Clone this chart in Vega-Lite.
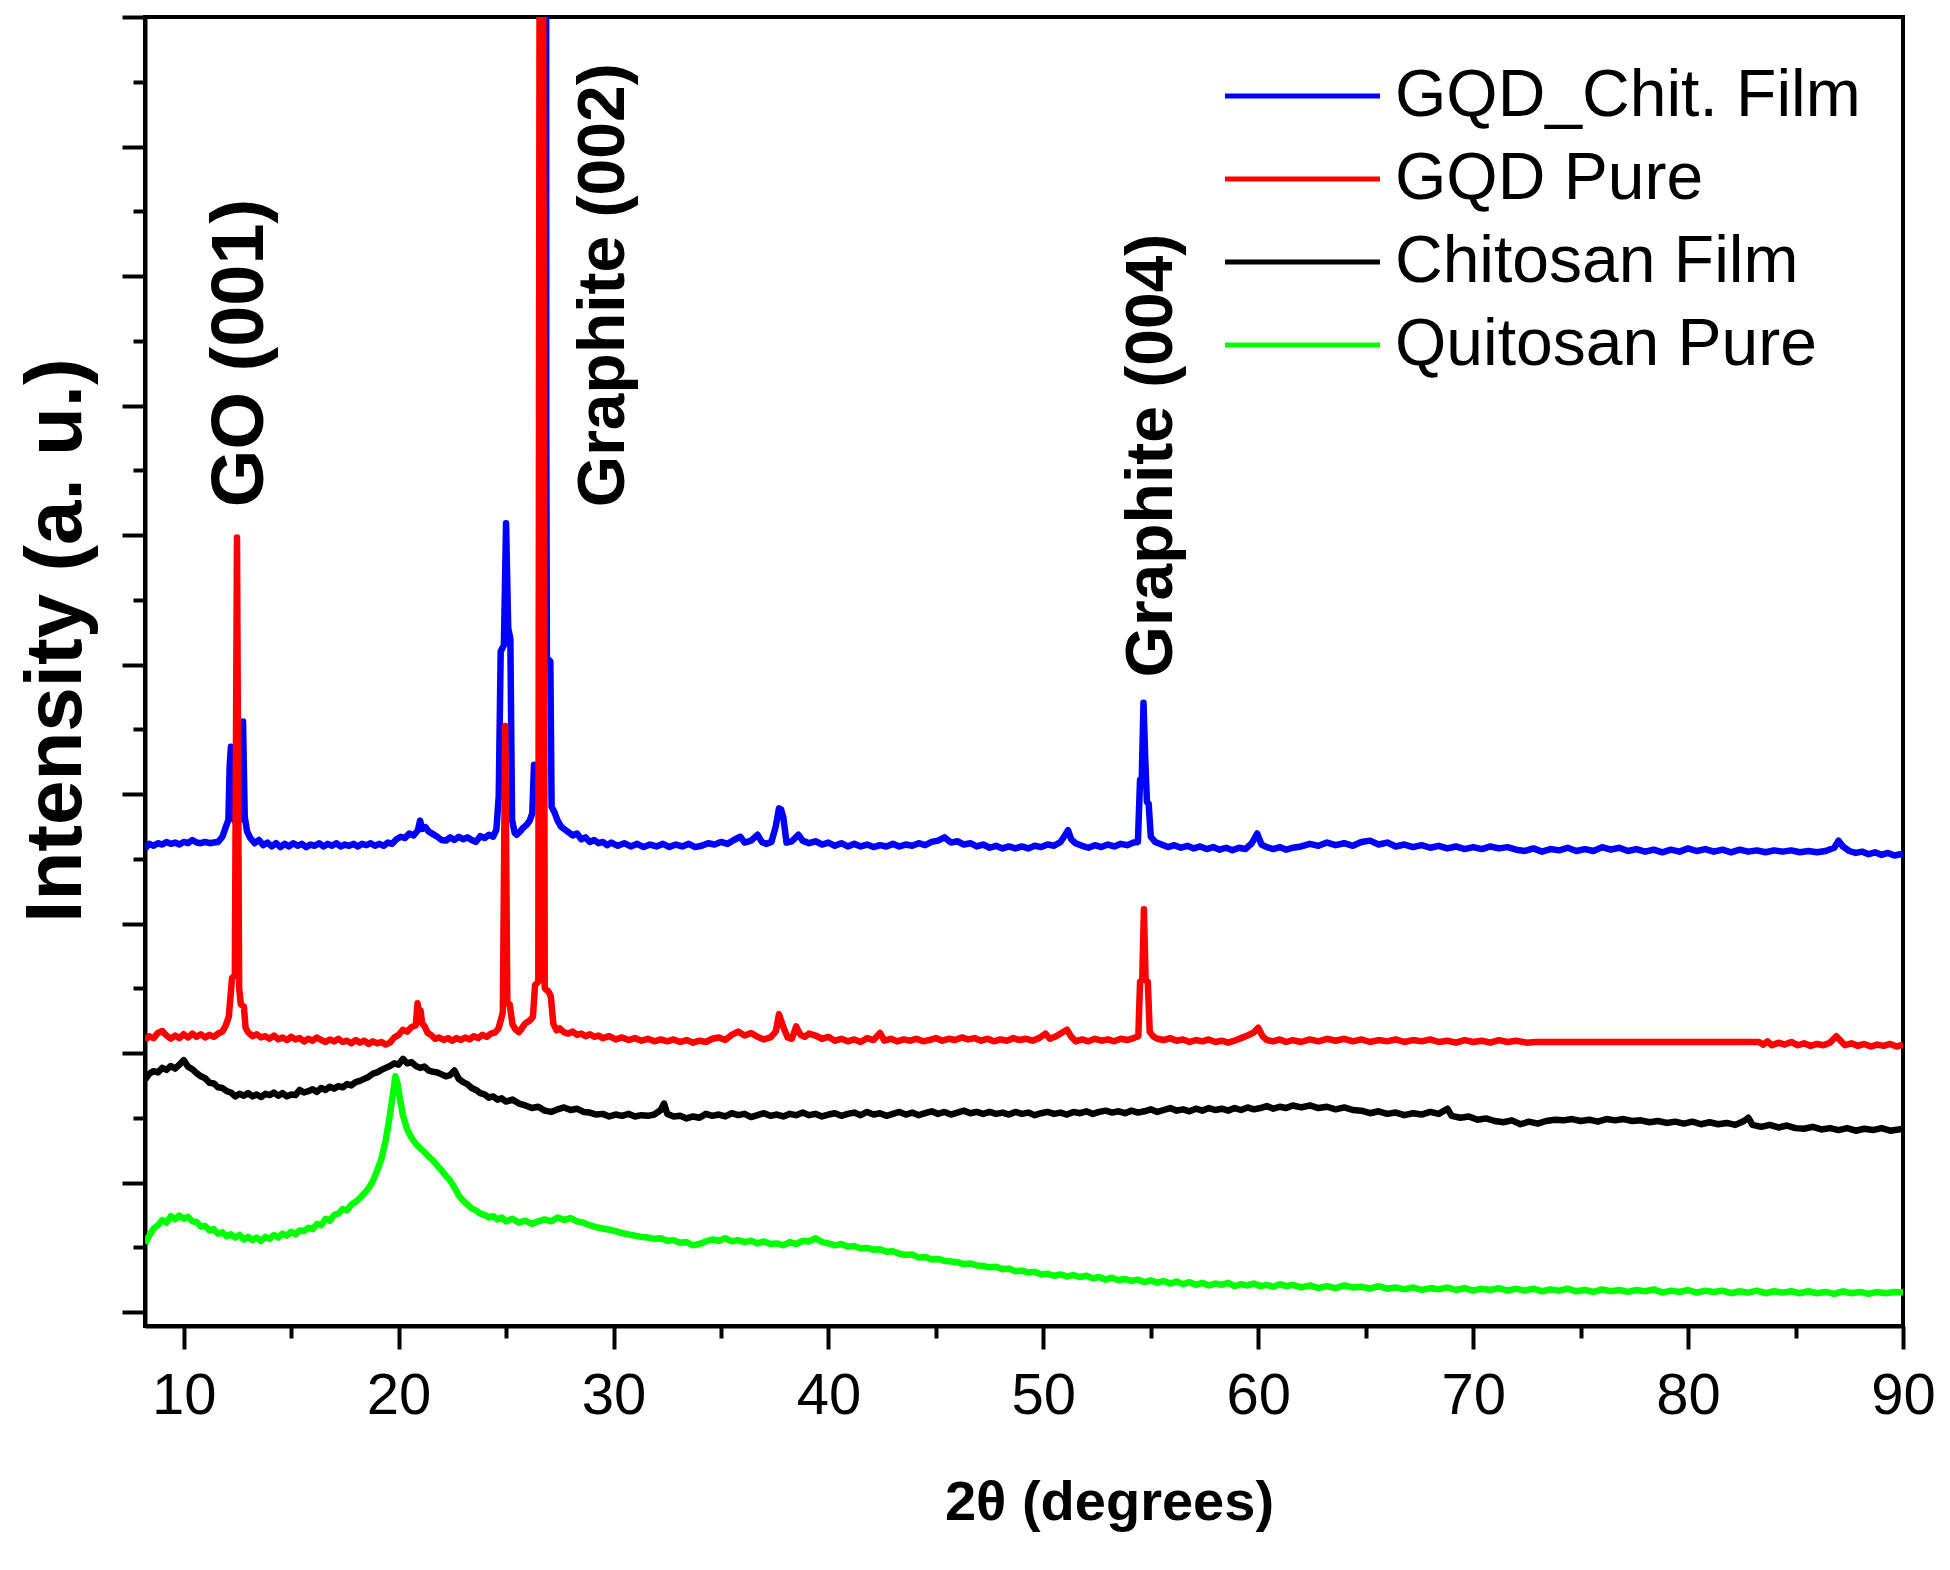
{
"$schema": "https://vega.github.io/schema/vega-lite/v6.json",
"width": 1758, "height": 1309,
"autosize": {"type": "none"},
"padding": {"left": 145, "top": 17, "right": 47, "bottom": 244},
"background": "white",
"config": {"view": {"stroke": "black", "strokeWidth": 4}, "font": "Liberation Sans"},
"datasets": {
"blue": [{"x":8.2,"y":71.6},{"x":8.4,"y":72.3},{"x":8.6,"y":72.0},{"x":8.8,"y":72.4},{"x":9.0,"y":72.2},{"x":9.2,"y":72.6},{"x":9.4,"y":72.3},{"x":9.6,"y":72.5},{"x":9.8,"y":72.2},{"x":10.0,"y":72.6},{"x":10.2,"y":72.4},{"x":10.4,"y":72.9},{"x":10.6,"y":72.5},{"x":10.8,"y":72.4},{"x":11.0,"y":72.6},{"x":11.2,"y":72.4},{"x":11.4,"y":72.5},{"x":11.6,"y":72.6},{"x":11.8,"y":73.4},{"x":11.95,"y":74.8},{"x":12.08,"y":76.0},{"x":12.14,"y":84.3},{"x":12.2,"y":87.3},{"x":12.26,"y":77.0},{"x":12.35,"y":76.0},{"x":12.45,"y":75.5},{"x":12.6,"y":76.0},{"x":12.68,"y":86.0},{"x":12.76,"y":91.2},{"x":12.84,"y":76.5},{"x":12.95,"y":74.2},{"x":13.1,"y":73.2},{"x":13.3,"y":72.4},{"x":13.5,"y":72.9},{"x":13.7,"y":72.1},{"x":13.9,"y":72.5},{"x":14.1,"y":71.9},{"x":14.3,"y":72.4},{"x":14.5,"y":71.8},{"x":14.7,"y":72.3},{"x":14.9,"y":71.9},{"x":15.1,"y":72.4},{"x":15.3,"y":72.0},{"x":15.5,"y":72.3},{"x":15.7,"y":71.8},{"x":15.9,"y":72.2},{"x":16.1,"y":72.0},{"x":16.3,"y":72.4},{"x":16.5,"y":71.9},{"x":16.7,"y":72.3},{"x":16.9,"y":72.0},{"x":17.1,"y":72.4},{"x":17.3,"y":71.9},{"x":17.5,"y":72.2},{"x":17.7,"y":72.0},{"x":17.9,"y":72.3},{"x":18.1,"y":71.9},{"x":18.3,"y":72.3},{"x":18.5,"y":72.1},{"x":18.7,"y":72.4},{"x":18.9,"y":72.0},{"x":19.1,"y":72.3},{"x":19.3,"y":72.0},{"x":19.5,"y":72.5},{"x":19.7,"y":72.3},{"x":19.9,"y":73.0},{"x":20.1,"y":73.4},{"x":20.3,"y":73.2},{"x":20.5,"y":73.9},{"x":20.7,"y":73.6},{"x":20.9,"y":74.4},{"x":21.0,"y":75.9},{"x":21.1,"y":74.6},{"x":21.25,"y":74.9},{"x":21.4,"y":74.2},{"x":21.6,"y":73.8},{"x":21.8,"y":73.4},{"x":22.0,"y":72.9},{"x":22.2,"y":72.8},{"x":22.4,"y":73.3},{"x":22.6,"y":72.9},{"x":22.8,"y":73.4},{"x":23.0,"y":73.0},{"x":23.2,"y":73.3},{"x":23.4,"y":72.9},{"x":23.6,"y":72.6},{"x":23.8,"y":73.5},{"x":24.0,"y":73.2},{"x":24.2,"y":73.7},{"x":24.4,"y":73.4},{"x":24.55,"y":74.5},{"x":24.66,"y":79.7},{"x":24.75,"y":102.0},{"x":24.9,"y":103.0},{"x":25.0,"y":121.8},{"x":25.1,"y":105.6},{"x":25.2,"y":104.0},{"x":25.28,"y":76.0},{"x":25.4,"y":74.0},{"x":25.5,"y":73.7},{"x":25.65,"y":74.2},{"x":25.8,"y":74.8},{"x":25.95,"y":75.2},{"x":26.1,"y":75.9},{"x":26.22,"y":77.0},{"x":26.3,"y":84.5},{"x":26.4,"y":84.0},{"x":26.5,"y":80.0},{"x":26.6,"y":82.0},{"x":26.72,"y":260},{"x":26.86,"y":260},{"x":26.87,"y":137},{"x":26.9,"y":101.0},{"x":27.06,"y":100.5},{"x":27.12,"y":78.0},{"x":27.25,"y":77.2},{"x":27.4,"y":75.9},{"x":27.55,"y":75.0},{"x":27.7,"y":74.6},{"x":27.9,"y":74.1},{"x":28.1,"y":73.6},{"x":28.3,"y":73.9},{"x":28.5,"y":73.0},{"x":28.7,"y":73.3},{"x":28.9,"y":72.6},{"x":29.1,"y":72.9},{"x":29.3,"y":72.4},{"x":29.5,"y":72.6},{"x":29.7,"y":72.1},{"x":29.9,"y":72.5},{"x":30.2,"y":72.0},{"x":30.5,"y":72.4},{"x":30.8,"y":71.9},{"x":31.1,"y":72.3},{"x":31.4,"y":71.8},{"x":31.7,"y":72.2},{"x":32.0,"y":71.9},{"x":32.3,"y":72.3},{"x":32.6,"y":71.8},{"x":32.9,"y":72.2},{"x":33.2,"y":71.9},{"x":33.5,"y":72.3},{"x":33.8,"y":71.8},{"x":34.1,"y":72.0},{"x":34.4,"y":72.4},{"x":34.7,"y":72.2},{"x":35.0,"y":72.6},{"x":35.3,"y":72.3},{"x":35.6,"y":72.9},{"x":35.9,"y":73.4},{"x":36.1,"y":72.5},{"x":36.4,"y":72.8},{"x":36.7,"y":73.7},{"x":36.9,"y":72.6},{"x":37.1,"y":72.3},{"x":37.35,"y":72.6},{"x":37.55,"y":75.0},{"x":37.7,"y":77.8},{"x":37.8,"y":77.6},{"x":37.9,"y":76.4},{"x":38.05,"y":72.5},{"x":38.3,"y":72.7},{"x":38.6,"y":73.7},{"x":38.8,"y":72.8},{"x":39.1,"y":72.4},{"x":39.4,"y":72.7},{"x":39.7,"y":72.2},{"x":40.0,"y":72.5},{"x":40.3,"y":72.0},{"x":40.6,"y":72.4},{"x":40.9,"y":71.9},{"x":41.2,"y":72.3},{"x":41.5,"y":71.9},{"x":41.8,"y":72.2},{"x":42.1,"y":71.8},{"x":42.4,"y":72.1},{"x":42.7,"y":71.9},{"x":43.0,"y":72.3},{"x":43.3,"y":71.9},{"x":43.6,"y":72.2},{"x":43.9,"y":72.0},{"x":44.2,"y":72.4},{"x":44.5,"y":72.1},{"x":44.8,"y":72.6},{"x":45.1,"y":72.8},{"x":45.4,"y":73.3},{"x":45.7,"y":72.5},{"x":46.0,"y":72.7},{"x":46.3,"y":72.2},{"x":46.6,"y":72.4},{"x":46.9,"y":71.9},{"x":47.2,"y":72.2},{"x":47.5,"y":71.7},{"x":47.8,"y":72.0},{"x":48.1,"y":71.6},{"x":48.4,"y":71.9},{"x":48.7,"y":71.6},{"x":49.0,"y":71.9},{"x":49.3,"y":71.6},{"x":49.6,"y":72.0},{"x":49.9,"y":71.8},{"x":50.2,"y":72.2},{"x":50.5,"y":72.0},{"x":50.8,"y":72.6},{"x":51.0,"y":73.6},{"x":51.15,"y":74.4},{"x":51.3,"y":73.0},{"x":51.5,"y":72.4},{"x":51.8,"y":72.0},{"x":52.1,"y":71.7},{"x":52.4,"y":72.1},{"x":52.7,"y":71.8},{"x":53.0,"y":72.2},{"x":53.3,"y":71.9},{"x":53.6,"y":72.3},{"x":53.9,"y":72.1},{"x":54.2,"y":72.5},{"x":54.4,"y":72.6},{"x":54.5,"y":82.2},{"x":54.58,"y":82.5},{"x":54.66,"y":94.1},{"x":54.74,"y":85.5},{"x":54.82,"y":78.8},{"x":54.9,"y":78.5},{"x":55.0,"y":73.4},{"x":55.2,"y":72.6},{"x":55.5,"y":72.2},{"x":55.8,"y":71.8},{"x":56.1,"y":72.1},{"x":56.4,"y":71.7},{"x":56.7,"y":72.0},{"x":57.0,"y":71.6},{"x":57.3,"y":71.9},{"x":57.6,"y":71.5},{"x":57.9,"y":71.8},{"x":58.2,"y":71.4},{"x":58.5,"y":71.7},{"x":58.8,"y":71.3},{"x":59.1,"y":71.7},{"x":59.4,"y":71.5},{"x":59.7,"y":72.4},{"x":59.95,"y":73.9},{"x":60.15,"y":72.2},{"x":60.4,"y":71.8},{"x":60.7,"y":71.5},{"x":61.0,"y":71.8},{"x":61.3,"y":71.4},{"x":61.6,"y":71.7},{"x":62.0,"y":71.9},{"x":62.4,"y":72.3},{"x":62.8,"y":72.0},{"x":63.2,"y":72.5},{"x":63.6,"y":72.1},{"x":64.0,"y":72.4},{"x":64.4,"y":72.0},{"x":64.8,"y":72.6},{"x":65.2,"y":72.8},{"x":65.6,"y":72.2},{"x":66.0,"y":72.5},{"x":66.4,"y":71.9},{"x":66.8,"y":72.2},{"x":67.2,"y":71.8},{"x":67.6,"y":72.1},{"x":68.0,"y":71.7},{"x":68.4,"y":72.0},{"x":68.8,"y":71.6},{"x":69.2,"y":71.9},{"x":69.6,"y":71.5},{"x":70.0,"y":71.8},{"x":70.4,"y":71.5},{"x":70.8,"y":71.9},{"x":71.2,"y":71.6},{"x":71.6,"y":71.8},{"x":72.0,"y":71.4},{"x":72.4,"y":71.2},{"x":72.8,"y":71.6},{"x":73.2,"y":71.1},{"x":73.6,"y":71.5},{"x":74.0,"y":71.3},{"x":74.4,"y":71.7},{"x":74.8,"y":71.2},{"x":75.2,"y":71.5},{"x":75.6,"y":71.2},{"x":76.0,"y":71.8},{"x":76.4,"y":71.4},{"x":76.8,"y":71.7},{"x":77.2,"y":71.2},{"x":77.6,"y":71.5},{"x":78.0,"y":71.1},{"x":78.4,"y":71.4},{"x":78.8,"y":71.0},{"x":79.2,"y":71.4},{"x":79.6,"y":71.1},{"x":80.0,"y":71.6},{"x":80.4,"y":71.2},{"x":80.8,"y":71.5},{"x":81.2,"y":71.1},{"x":81.6,"y":71.4},{"x":82.0,"y":71.0},{"x":82.4,"y":71.4},{"x":82.8,"y":71.1},{"x":83.2,"y":71.3},{"x":83.6,"y":71.0},{"x":84.0,"y":71.3},{"x":84.4,"y":71.1},{"x":84.8,"y":71.3},{"x":85.2,"y":71.0},{"x":85.6,"y":71.2},{"x":86.0,"y":71.0},{"x":86.4,"y":71.2},{"x":86.8,"y":71.7},{"x":87.0,"y":72.8},{"x":87.2,"y":71.9},{"x":87.5,"y":71.2},{"x":87.8,"y":70.9},{"x":88.1,"y":71.1},{"x":88.4,"y":70.7},{"x":88.7,"y":71.0},{"x":89.0,"y":70.6},{"x":89.3,"y":70.9},{"x":89.6,"y":70.5},{"x":90.0,"y":70.8}],
"red": [{"x":8.2,"y":42.0},{"x":8.4,"y":42.6},{"x":8.6,"y":42.3},{"x":8.8,"y":43.1},{"x":9.0,"y":43.4},{"x":9.2,"y":42.7},{"x":9.4,"y":42.2},{"x":9.6,"y":42.7},{"x":9.8,"y":42.3},{"x":10.0,"y":42.9},{"x":10.2,"y":42.4},{"x":10.4,"y":43.0},{"x":10.6,"y":42.5},{"x":10.8,"y":42.9},{"x":11.0,"y":42.4},{"x":11.2,"y":42.8},{"x":11.4,"y":42.5},{"x":11.6,"y":43.0},{"x":11.8,"y":43.3},{"x":11.95,"y":44.2},{"x":12.1,"y":45.6},{"x":12.25,"y":51.6},{"x":12.38,"y":52.0},{"x":12.48,"y":119.6},{"x":12.58,"y":50.0},{"x":12.66,"y":47.5},{"x":12.8,"y":47.2},{"x":12.88,"y":43.9},{"x":13.0,"y":43.2},{"x":13.2,"y":42.6},{"x":13.4,"y":42.9},{"x":13.6,"y":42.4},{"x":13.8,"y":42.6},{"x":14.0,"y":42.2},{"x":14.2,"y":42.7},{"x":14.4,"y":42.1},{"x":14.6,"y":42.4},{"x":14.8,"y":42.0},{"x":15.0,"y":42.5},{"x":15.2,"y":42.1},{"x":15.4,"y":42.3},{"x":15.6,"y":41.8},{"x":15.8,"y":42.2},{"x":16.0,"y":41.9},{"x":16.2,"y":42.4},{"x":16.4,"y":42.0},{"x":16.6,"y":41.7},{"x":16.8,"y":42.1},{"x":17.0,"y":41.8},{"x":17.2,"y":42.2},{"x":17.4,"y":41.7},{"x":17.6,"y":41.9},{"x":17.8,"y":41.5},{"x":18.0,"y":42.0},{"x":18.2,"y":41.6},{"x":18.4,"y":41.9},{"x":18.6,"y":41.4},{"x":18.8,"y":41.8},{"x":19.0,"y":41.5},{"x":19.2,"y":41.7},{"x":19.4,"y":41.3},{"x":19.6,"y":41.6},{"x":19.8,"y":42.4},{"x":20.0,"y":42.8},{"x":20.2,"y":43.6},{"x":20.4,"y":43.3},{"x":20.6,"y":44.0},{"x":20.8,"y":44.3},{"x":20.88,"y":47.7},{"x":20.95,"y":46.0},{"x":21.02,"y":46.6},{"x":21.1,"y":44.5},{"x":21.2,"y":44.2},{"x":21.35,"y":43.1},{"x":21.5,"y":42.8},{"x":21.7,"y":42.2},{"x":21.9,"y":42.4},{"x":22.1,"y":42.0},{"x":22.3,"y":42.3},{"x":22.5,"y":41.9},{"x":22.7,"y":42.3},{"x":22.9,"y":42.0},{"x":23.1,"y":42.4},{"x":23.3,"y":42.1},{"x":23.5,"y":42.6},{"x":23.7,"y":42.3},{"x":23.9,"y":42.8},{"x":24.1,"y":42.5},{"x":24.3,"y":43.0},{"x":24.5,"y":43.2},{"x":24.65,"y":43.8},{"x":24.75,"y":45.0},{"x":24.85,"y":46.3},{"x":24.96,"y":90.5},{"x":25.06,"y":47.7},{"x":25.17,"y":47.5},{"x":25.3,"y":44.4},{"x":25.45,"y":43.6},{"x":25.6,"y":43.2},{"x":25.75,"y":43.9},{"x":25.9,"y":44.6},{"x":26.1,"y":45.0},{"x":26.25,"y":45.6},{"x":26.35,"y":50.5},{"x":26.5,"y":51.0},{"x":26.58,"y":260},{"x":26.7,"y":260},{"x":26.8,"y":50.0},{"x":26.97,"y":49.5},{"x":27.08,"y":48.8},{"x":27.2,"y":44.5},{"x":27.35,"y":43.5},{"x":27.5,"y":43.8},{"x":27.7,"y":43.2},{"x":27.9,"y":43.0},{"x":28.1,"y":43.3},{"x":28.3,"y":42.8},{"x":28.5,"y":43.0},{"x":28.7,"y":42.6},{"x":28.9,"y":42.9},{"x":29.1,"y":42.5},{"x":29.3,"y":42.7},{"x":29.5,"y":42.3},{"x":29.8,"y":42.6},{"x":30.1,"y":42.1},{"x":30.4,"y":42.4},{"x":30.7,"y":42.0},{"x":31.0,"y":42.3},{"x":31.3,"y":41.9},{"x":31.6,"y":42.2},{"x":31.9,"y":41.8},{"x":32.2,"y":42.1},{"x":32.5,"y":41.8},{"x":32.8,"y":42.1},{"x":33.1,"y":41.7},{"x":33.4,"y":42.0},{"x":33.7,"y":41.6},{"x":34.0,"y":41.9},{"x":34.3,"y":41.7},{"x":34.6,"y":42.2},{"x":34.9,"y":42.4},{"x":35.2,"y":42.0},{"x":35.5,"y":42.8},{"x":35.8,"y":43.3},{"x":36.1,"y":42.7},{"x":36.4,"y":43.1},{"x":36.7,"y":42.5},{"x":37.0,"y":42.1},{"x":37.3,"y":42.4},{"x":37.55,"y":43.3},{"x":37.7,"y":46.0},{"x":37.78,"y":45.2},{"x":37.9,"y":44.0},{"x":38.1,"y":42.4},{"x":38.3,"y":42.2},{"x":38.5,"y":44.1},{"x":38.7,"y":42.8},{"x":38.9,"y":42.5},{"x":39.1,"y":43.0},{"x":39.4,"y":42.7},{"x":39.7,"y":42.2},{"x":40.0,"y":42.5},{"x":40.3,"y":41.9},{"x":40.6,"y":42.2},{"x":40.9,"y":41.8},{"x":41.2,"y":42.1},{"x":41.5,"y":41.7},{"x":41.8,"y":42.3},{"x":42.1,"y":42.0},{"x":42.4,"y":43.1},{"x":42.6,"y":41.9},{"x":42.9,"y":42.2},{"x":43.2,"y":41.8},{"x":43.5,"y":42.1},{"x":43.8,"y":41.9},{"x":44.1,"y":42.2},{"x":44.4,"y":41.8},{"x":44.7,"y":42.0},{"x":45.0,"y":42.3},{"x":45.3,"y":41.9},{"x":45.6,"y":42.2},{"x":45.9,"y":42.0},{"x":46.2,"y":42.4},{"x":46.5,"y":42.1},{"x":46.8,"y":42.3},{"x":47.1,"y":41.9},{"x":47.4,"y":42.2},{"x":47.7,"y":41.8},{"x":48.0,"y":42.1},{"x":48.3,"y":41.9},{"x":48.6,"y":42.3},{"x":48.9,"y":42.0},{"x":49.2,"y":42.2},{"x":49.5,"y":41.9},{"x":49.8,"y":42.3},{"x":50.1,"y":43.0},{"x":50.3,"y":42.2},{"x":50.6,"y":42.6},{"x":50.9,"y":43.2},{"x":51.1,"y":43.6},{"x":51.3,"y":42.5},{"x":51.5,"y":41.8},{"x":51.8,"y":42.1},{"x":52.1,"y":41.8},{"x":52.4,"y":42.2},{"x":52.7,"y":41.9},{"x":53.0,"y":42.1},{"x":53.3,"y":41.8},{"x":53.6,"y":42.2},{"x":53.9,"y":42.0},{"x":54.2,"y":42.3},{"x":54.42,"y":42.6},{"x":54.5,"y":51.0},{"x":54.6,"y":51.3},{"x":54.68,"y":62.2},{"x":54.76,"y":51.2},{"x":54.86,"y":51.0},{"x":54.95,"y":43.3},{"x":55.1,"y":42.6},{"x":55.3,"y":42.2},{"x":55.6,"y":42.0},{"x":55.9,"y":42.3},{"x":56.2,"y":41.9},{"x":56.5,"y":42.1},{"x":56.8,"y":41.7},{"x":57.1,"y":42.0},{"x":57.4,"y":41.8},{"x":57.7,"y":42.1},{"x":58.0,"y":41.7},{"x":58.3,"y":41.9},{"x":58.6,"y":41.6},{"x":58.9,"y":41.9},{"x":59.2,"y":42.3},{"x":59.5,"y":42.7},{"x":59.8,"y":43.2},{"x":60.0,"y":43.9},{"x":60.2,"y":42.6},{"x":60.4,"y":42.0},{"x":60.7,"y":41.8},{"x":61.0,"y":42.1},{"x":61.3,"y":41.7},{"x":61.6,"y":42.0},{"x":62.0,"y":41.7},{"x":62.4,"y":42.1},{"x":62.8,"y":41.8},{"x":63.2,"y":42.2},{"x":63.6,"y":41.9},{"x":64.0,"y":42.2},{"x":64.4,"y":41.8},{"x":64.8,"y":42.1},{"x":65.2,"y":41.7},{"x":65.6,"y":42.0},{"x":66.0,"y":41.8},{"x":66.4,"y":42.1},{"x":66.8,"y":41.7},{"x":67.2,"y":42.0},{"x":67.6,"y":41.8},{"x":68.0,"y":42.1},{"x":68.4,"y":41.7},{"x":68.8,"y":41.9},{"x":69.2,"y":41.6},{"x":69.6,"y":42.0},{"x":70.0,"y":41.7},{"x":70.4,"y":41.9},{"x":70.8,"y":41.6},{"x":71.2,"y":42.0},{"x":71.6,"y":41.7},{"x":72.0,"y":41.9},{"x":72.5,"y":41.6},{"x":72.9,"y":41.7},{"x":83.3,"y":41.7},{"x":83.5,"y":41.3},{"x":83.7,"y":41.8},{"x":83.9,"y":41.2},{"x":84.2,"y":41.6},{"x":84.5,"y":41.3},{"x":84.8,"y":41.7},{"x":85.1,"y":41.2},{"x":85.4,"y":41.5},{"x":85.7,"y":41.1},{"x":86.0,"y":41.4},{"x":86.3,"y":41.2},{"x":86.6,"y":41.6},{"x":86.9,"y":42.6},{"x":87.1,"y":41.9},{"x":87.3,"y":41.2},{"x":87.6,"y":41.5},{"x":87.9,"y":41.1},{"x":88.2,"y":41.4},{"x":88.5,"y":41.0},{"x":88.8,"y":41.3},{"x":89.1,"y":41.1},{"x":89.4,"y":41.4},{"x":89.7,"y":41.0},{"x":90.0,"y":41.3}],
"black": [{"x":8.2,"y":35.9},{"x":8.4,"y":36.8},{"x":8.6,"y":37.2},{"x":8.8,"y":37.0},{"x":9.0,"y":37.7},{"x":9.2,"y":37.4},{"x":9.4,"y":38.0},{"x":9.6,"y":37.6},{"x":9.8,"y":38.2},{"x":10.0,"y":38.9},{"x":10.2,"y":37.9},{"x":10.4,"y":37.5},{"x":10.6,"y":36.9},{"x":10.8,"y":36.4},{"x":11.0,"y":36.1},{"x":11.2,"y":35.4},{"x":11.4,"y":35.3},{"x":11.6,"y":34.7},{"x":11.8,"y":34.6},{"x":12.0,"y":34.1},{"x":12.2,"y":33.9},{"x":12.4,"y":33.3},{"x":12.6,"y":33.7},{"x":12.8,"y":33.4},{"x":13.0,"y":33.8},{"x":13.2,"y":33.3},{"x":13.4,"y":33.6},{"x":13.6,"y":33.2},{"x":13.8,"y":33.7},{"x":14.0,"y":33.5},{"x":14.2,"y":33.9},{"x":14.4,"y":33.4},{"x":14.6,"y":33.8},{"x":14.8,"y":33.3},{"x":15.0,"y":33.6},{"x":15.2,"y":33.5},{"x":15.4,"y":34.3},{"x":15.6,"y":33.9},{"x":15.8,"y":34.1},{"x":16.0,"y":34.4},{"x":16.2,"y":34.0},{"x":16.4,"y":34.6},{"x":16.6,"y":34.3},{"x":16.8,"y":34.8},{"x":17.0,"y":34.5},{"x":17.2,"y":34.9},{"x":17.4,"y":34.7},{"x":17.6,"y":35.2},{"x":17.8,"y":35.0},{"x":18.0,"y":35.5},{"x":18.2,"y":35.7},{"x":18.4,"y":36.0},{"x":18.6,"y":36.3},{"x":18.8,"y":36.8},{"x":19.0,"y":37.0},{"x":19.2,"y":37.4},{"x":19.4,"y":37.7},{"x":19.6,"y":38.0},{"x":19.8,"y":38.4},{"x":20.0,"y":38.2},{"x":20.2,"y":39.1},{"x":20.4,"y":38.4},{"x":20.6,"y":38.6},{"x":20.8,"y":38.0},{"x":21.0,"y":37.7},{"x":21.2,"y":37.9},{"x":21.4,"y":37.3},{"x":21.6,"y":37.1},{"x":21.8,"y":37.0},{"x":22.0,"y":36.7},{"x":22.2,"y":36.4},{"x":22.4,"y":36.6},{"x":22.6,"y":37.3},{"x":22.8,"y":36.0},{"x":23.0,"y":35.5},{"x":23.2,"y":35.2},{"x":23.4,"y":34.6},{"x":23.6,"y":34.3},{"x":23.8,"y":33.8},{"x":24.0,"y":33.6},{"x":24.2,"y":33.1},{"x":24.4,"y":33.3},{"x":24.6,"y":32.8},{"x":24.8,"y":33.0},{"x":25.0,"y":32.5},{"x":25.3,"y":32.8},{"x":25.6,"y":32.2},{"x":25.9,"y":31.9},{"x":26.2,"y":31.5},{"x":26.5,"y":31.7},{"x":26.8,"y":31.1},{"x":27.1,"y":30.9},{"x":27.4,"y":31.3},{"x":27.7,"y":31.6},{"x":28.0,"y":31.2},{"x":28.3,"y":31.4},{"x":28.6,"y":30.9},{"x":28.9,"y":30.8},{"x":29.2,"y":30.5},{"x":29.5,"y":30.6},{"x":29.8,"y":30.2},{"x":30.1,"y":30.5},{"x":30.4,"y":30.3},{"x":30.7,"y":30.6},{"x":31.0,"y":30.2},{"x":31.3,"y":30.4},{"x":31.6,"y":30.3},{"x":31.9,"y":30.5},{"x":32.2,"y":31.2},{"x":32.35,"y":32.2},{"x":32.5,"y":30.6},{"x":32.8,"y":30.2},{"x":33.1,"y":30.3},{"x":33.4,"y":29.9},{"x":33.7,"y":30.2},{"x":34.0,"y":30.0},{"x":34.3,"y":30.6},{"x":34.6,"y":30.3},{"x":34.9,"y":30.5},{"x":35.2,"y":30.2},{"x":35.5,"y":30.7},{"x":35.8,"y":30.4},{"x":36.1,"y":30.6},{"x":36.4,"y":30.1},{"x":36.7,"y":30.4},{"x":37.0,"y":30.7},{"x":37.3,"y":30.3},{"x":37.6,"y":30.5},{"x":37.9,"y":30.2},{"x":38.2,"y":30.6},{"x":38.5,"y":30.4},{"x":38.8,"y":30.8},{"x":39.1,"y":30.4},{"x":39.4,"y":30.6},{"x":39.7,"y":30.2},{"x":40.0,"y":30.5},{"x":40.3,"y":30.7},{"x":40.6,"y":30.3},{"x":40.9,"y":30.6},{"x":41.2,"y":30.8},{"x":41.5,"y":30.4},{"x":41.8,"y":30.9},{"x":42.1,"y":30.5},{"x":42.4,"y":30.7},{"x":42.7,"y":30.3},{"x":43.0,"y":30.6},{"x":43.3,"y":30.9},{"x":43.6,"y":30.5},{"x":43.9,"y":30.8},{"x":44.2,"y":30.4},{"x":44.5,"y":30.7},{"x":44.8,"y":31.0},{"x":45.1,"y":30.6},{"x":45.4,"y":30.9},{"x":45.7,"y":30.5},{"x":46.0,"y":30.8},{"x":46.3,"y":31.1},{"x":46.6,"y":30.7},{"x":46.9,"y":30.9},{"x":47.2,"y":30.6},{"x":47.5,"y":30.9},{"x":47.8,"y":30.6},{"x":48.1,"y":30.8},{"x":48.4,"y":30.5},{"x":48.7,"y":30.9},{"x":49.0,"y":30.6},{"x":49.3,"y":30.8},{"x":49.6,"y":30.4},{"x":49.9,"y":30.7},{"x":50.2,"y":30.9},{"x":50.5,"y":30.6},{"x":50.8,"y":30.8},{"x":51.1,"y":30.5},{"x":51.4,"y":30.9},{"x":51.7,"y":30.7},{"x":52.0,"y":31.0},{"x":52.3,"y":30.6},{"x":52.6,"y":30.9},{"x":52.9,"y":31.1},{"x":53.2,"y":30.8},{"x":53.5,"y":31.0},{"x":53.8,"y":30.7},{"x":54.1,"y":31.1},{"x":54.4,"y":30.8},{"x":54.7,"y":31.0},{"x":55.0,"y":31.3},{"x":55.3,"y":30.9},{"x":55.6,"y":31.2},{"x":55.9,"y":31.5},{"x":56.2,"y":31.1},{"x":56.5,"y":31.3},{"x":56.8,"y":31.0},{"x":57.1,"y":31.4},{"x":57.4,"y":31.1},{"x":57.7,"y":31.5},{"x":58.0,"y":31.2},{"x":58.3,"y":31.4},{"x":58.6,"y":31.1},{"x":58.9,"y":31.5},{"x":59.2,"y":31.2},{"x":59.5,"y":31.6},{"x":59.8,"y":31.3},{"x":60.1,"y":31.5},{"x":60.4,"y":31.8},{"x":60.7,"y":31.4},{"x":61.0,"y":31.7},{"x":61.3,"y":31.5},{"x":61.6,"y":31.9},{"x":62.0,"y":31.6},{"x":62.4,"y":31.9},{"x":62.8,"y":31.5},{"x":63.2,"y":31.7},{"x":63.6,"y":31.3},{"x":64.0,"y":31.6},{"x":64.4,"y":31.2},{"x":64.8,"y":31.1},{"x":65.2,"y":30.7},{"x":65.6,"y":31.0},{"x":66.0,"y":30.6},{"x":66.4,"y":30.8},{"x":66.8,"y":30.4},{"x":67.2,"y":30.7},{"x":67.6,"y":30.5},{"x":68.0,"y":30.9},{"x":68.4,"y":30.6},{"x":68.8,"y":31.4},{"x":69.0,"y":30.3},{"x":69.4,"y":30.0},{"x":69.8,"y":30.2},{"x":70.2,"y":29.7},{"x":70.6,"y":29.9},{"x":71.0,"y":29.5},{"x":71.4,"y":29.3},{"x":71.8,"y":29.6},{"x":72.2,"y":29.0},{"x":72.6,"y":29.4},{"x":73.0,"y":29.1},{"x":73.4,"y":29.5},{"x":73.8,"y":29.7},{"x":74.2,"y":29.6},{"x":74.6,"y":29.8},{"x":75.0,"y":29.5},{"x":75.4,"y":29.7},{"x":75.8,"y":29.4},{"x":76.2,"y":29.8},{"x":76.6,"y":29.6},{"x":77.0,"y":29.8},{"x":77.4,"y":29.5},{"x":77.8,"y":29.6},{"x":78.2,"y":29.3},{"x":78.6,"y":29.5},{"x":79.0,"y":29.2},{"x":79.4,"y":29.4},{"x":79.8,"y":29.1},{"x":80.2,"y":29.4},{"x":80.6,"y":29.0},{"x":81.0,"y":29.3},{"x":81.4,"y":29.0},{"x":81.8,"y":29.2},{"x":82.2,"y":28.9},{"x":82.6,"y":29.5},{"x":82.8,"y":30.0},{"x":83.0,"y":28.9},{"x":83.4,"y":28.6},{"x":83.8,"y":28.9},{"x":84.2,"y":28.5},{"x":84.6,"y":28.8},{"x":85.0,"y":28.4},{"x":85.4,"y":28.3},{"x":85.8,"y":28.6},{"x":86.2,"y":28.2},{"x":86.6,"y":28.4},{"x":87.0,"y":28.1},{"x":87.4,"y":28.4},{"x":87.8,"y":28.0},{"x":88.2,"y":28.3},{"x":88.6,"y":28.1},{"x":89.0,"y":28.4},{"x":89.4,"y":28.0},{"x":89.8,"y":28.2},{"x":90.0,"y":28.3}],
"green": [{"x":8.2,"y":10.6},{"x":8.4,"y":11.8},{"x":8.6,"y":12.9},{"x":8.8,"y":13.4},{"x":9.0,"y":14.2},{"x":9.2,"y":13.8},{"x":9.4,"y":14.8},{"x":9.6,"y":14.3},{"x":9.8,"y":14.9},{"x":10.0,"y":14.4},{"x":10.2,"y":14.7},{"x":10.4,"y":14.0},{"x":10.6,"y":13.9},{"x":10.8,"y":13.2},{"x":11.0,"y":13.3},{"x":11.2,"y":12.6},{"x":11.4,"y":12.8},{"x":11.6,"y":12.1},{"x":11.8,"y":12.3},{"x":12.0,"y":11.7},{"x":12.2,"y":12.0},{"x":12.4,"y":11.5},{"x":12.6,"y":11.9},{"x":12.8,"y":11.2},{"x":13.0,"y":11.6},{"x":13.2,"y":11.1},{"x":13.4,"y":11.5},{"x":13.6,"y":11.0},{"x":13.8,"y":11.6},{"x":14.0,"y":11.3},{"x":14.2,"y":11.9},{"x":14.4,"y":11.5},{"x":14.6,"y":12.1},{"x":14.8,"y":11.8},{"x":15.0,"y":12.4},{"x":15.2,"y":12.0},{"x":15.4,"y":12.6},{"x":15.6,"y":12.5},{"x":15.8,"y":13.0},{"x":16.0,"y":12.8},{"x":16.2,"y":13.6},{"x":16.4,"y":13.4},{"x":16.6,"y":14.4},{"x":16.8,"y":14.1},{"x":17.0,"y":15.0},{"x":17.2,"y":15.2},{"x":17.4,"y":15.9},{"x":17.6,"y":15.7},{"x":17.8,"y":16.6},{"x":18.0,"y":17.0},{"x":18.2,"y":17.6},{"x":18.4,"y":18.3},{"x":18.6,"y":19.1},{"x":18.8,"y":20.2},{"x":19.0,"y":21.8},{"x":19.2,"y":23.6},{"x":19.4,"y":26.5},{"x":19.6,"y":30.5},{"x":19.75,"y":34.0},{"x":19.85,"y":36.4},{"x":19.95,"y":35.3},{"x":20.05,"y":33.2},{"x":20.2,"y":30.4},{"x":20.4,"y":28.2},{"x":20.6,"y":26.9},{"x":20.8,"y":26.0},{"x":21.0,"y":25.3},{"x":21.2,"y":24.7},{"x":21.4,"y":24.0},{"x":21.6,"y":23.4},{"x":21.8,"y":22.6},{"x":22.0,"y":21.9},{"x":22.2,"y":21.0},{"x":22.4,"y":20.3},{"x":22.6,"y":19.2},{"x":22.8,"y":18.0},{"x":23.0,"y":17.2},{"x":23.2,"y":16.6},{"x":23.4,"y":16.0},{"x":23.6,"y":15.7},{"x":23.8,"y":15.2},{"x":24.0,"y":15.0},{"x":24.2,"y":14.6},{"x":24.4,"y":14.8},{"x":24.6,"y":14.3},{"x":24.8,"y":14.6},{"x":25.0,"y":14.0},{"x":25.3,"y":14.4},{"x":25.6,"y":13.8},{"x":25.9,"y":14.1},{"x":26.2,"y":13.6},{"x":26.5,"y":14.0},{"x":26.8,"y":14.3},{"x":27.1,"y":14.0},{"x":27.4,"y":14.6},{"x":27.7,"y":14.2},{"x":28.0,"y":14.5},{"x":28.3,"y":14.0},{"x":28.6,"y":13.8},{"x":28.9,"y":13.4},{"x":29.2,"y":13.1},{"x":29.5,"y":12.9},{"x":29.8,"y":12.7},{"x":30.1,"y":12.5},{"x":30.4,"y":12.2},{"x":30.7,"y":12.0},{"x":31.0,"y":11.8},{"x":31.3,"y":11.6},{"x":31.6,"y":11.5},{"x":31.9,"y":11.3},{"x":32.2,"y":11.4},{"x":32.5,"y":11.0},{"x":32.8,"y":11.1},{"x":33.1,"y":10.7},{"x":33.4,"y":10.8},{"x":33.7,"y":10.3},{"x":34.0,"y":10.5},{"x":34.3,"y":10.9},{"x":34.6,"y":11.2},{"x":34.9,"y":11.0},{"x":35.2,"y":11.4},{"x":35.5,"y":10.9},{"x":35.8,"y":11.1},{"x":36.1,"y":10.8},{"x":36.4,"y":11.0},{"x":36.7,"y":10.6},{"x":37.0,"y":10.9},{"x":37.3,"y":10.5},{"x":37.6,"y":10.6},{"x":37.9,"y":10.3},{"x":38.2,"y":10.8},{"x":38.5,"y":10.5},{"x":38.8,"y":11.0},{"x":39.1,"y":10.9},{"x":39.4,"y":11.4},{"x":39.7,"y":10.8},{"x":40.0,"y":10.6},{"x":40.3,"y":10.3},{"x":40.6,"y":10.5},{"x":40.9,"y":10.1},{"x":41.2,"y":10.2},{"x":41.5,"y":9.8},{"x":41.8,"y":9.9},{"x":42.1,"y":9.6},{"x":42.4,"y":9.7},{"x":42.7,"y":9.3},{"x":43.0,"y":9.4},{"x":43.3,"y":9.0},{"x":43.6,"y":8.8},{"x":43.9,"y":8.9},{"x":44.2,"y":8.4},{"x":44.5,"y":8.5},{"x":44.8,"y":8.1},{"x":45.1,"y":8.2},{"x":45.4,"y":7.9},{"x":45.7,"y":7.8},{"x":46.0,"y":7.7},{"x":46.3,"y":7.4},{"x":46.6,"y":7.5},{"x":46.9,"y":7.2},{"x":47.2,"y":7.1},{"x":47.5,"y":6.9},{"x":47.8,"y":7.0},{"x":48.1,"y":6.6},{"x":48.4,"y":6.7},{"x":48.7,"y":6.3},{"x":49.0,"y":6.4},{"x":49.3,"y":6.1},{"x":49.6,"y":6.2},{"x":49.9,"y":5.8},{"x":50.2,"y":5.9},{"x":50.5,"y":5.6},{"x":50.8,"y":5.8},{"x":51.1,"y":5.5},{"x":51.4,"y":5.7},{"x":51.7,"y":5.4},{"x":52.0,"y":5.6},{"x":52.3,"y":5.2},{"x":52.6,"y":5.4},{"x":52.9,"y":5.0},{"x":53.2,"y":5.3},{"x":53.5,"y":4.9},{"x":53.8,"y":5.1},{"x":54.1,"y":4.8},{"x":54.4,"y":5.0},{"x":54.7,"y":4.6},{"x":55.0,"y":4.9},{"x":55.3,"y":4.5},{"x":55.6,"y":4.8},{"x":55.9,"y":4.4},{"x":56.2,"y":4.7},{"x":56.5,"y":4.3},{"x":56.8,"y":4.6},{"x":57.1,"y":4.2},{"x":57.4,"y":4.5},{"x":57.7,"y":4.1},{"x":58.0,"y":4.4},{"x":58.3,"y":4.2},{"x":58.6,"y":4.5},{"x":58.9,"y":4.0},{"x":59.2,"y":4.3},{"x":59.5,"y":4.1},{"x":59.8,"y":4.4},{"x":60.1,"y":4.0},{"x":60.4,"y":4.2},{"x":60.7,"y":3.9},{"x":61.0,"y":4.3},{"x":61.3,"y":4.0},{"x":61.6,"y":4.2},{"x":62.0,"y":3.8},{"x":62.4,"y":4.1},{"x":62.8,"y":3.7},{"x":63.2,"y":4.0},{"x":63.6,"y":3.7},{"x":64.0,"y":4.1},{"x":64.4,"y":3.8},{"x":64.8,"y":3.9},{"x":65.2,"y":3.6},{"x":65.6,"y":4.0},{"x":66.0,"y":3.6},{"x":66.4,"y":3.8},{"x":66.8,"y":3.5},{"x":67.2,"y":3.8},{"x":67.6,"y":3.4},{"x":68.0,"y":3.7},{"x":68.4,"y":3.5},{"x":68.8,"y":3.8},{"x":69.2,"y":3.4},{"x":69.6,"y":3.7},{"x":70.0,"y":3.3},{"x":70.4,"y":3.6},{"x":70.8,"y":3.4},{"x":71.2,"y":3.7},{"x":71.6,"y":3.3},{"x":72.0,"y":3.6},{"x":72.4,"y":3.3},{"x":72.8,"y":3.6},{"x":73.2,"y":3.2},{"x":73.6,"y":3.5},{"x":74.0,"y":3.3},{"x":74.4,"y":3.6},{"x":74.8,"y":3.2},{"x":75.2,"y":3.4},{"x":75.6,"y":3.1},{"x":76.0,"y":3.5},{"x":76.4,"y":3.2},{"x":76.8,"y":3.4},{"x":77.2,"y":3.1},{"x":77.6,"y":3.4},{"x":78.0,"y":3.2},{"x":78.4,"y":3.5},{"x":78.8,"y":3.0},{"x":79.2,"y":3.3},{"x":79.6,"y":3.1},{"x":80.0,"y":3.4},{"x":80.4,"y":3.0},{"x":80.8,"y":3.3},{"x":81.2,"y":3.1},{"x":81.6,"y":3.3},{"x":82.0,"y":2.9},{"x":82.4,"y":3.2},{"x":82.8,"y":3.0},{"x":83.2,"y":3.3},{"x":83.6,"y":2.9},{"x":84.0,"y":3.2},{"x":84.4,"y":3.0},{"x":84.8,"y":3.2},{"x":85.2,"y":2.9},{"x":85.6,"y":3.2},{"x":86.0,"y":2.9},{"x":86.4,"y":3.1},{"x":86.8,"y":2.8},{"x":87.2,"y":3.2},{"x":87.6,"y":2.9},{"x":88.0,"y":3.1},{"x":88.4,"y":2.8},{"x":88.8,"y":3.1},{"x":89.2,"y":2.9},{"x":89.6,"y":3.1},{"x":90.0,"y":3.0}]
},
"layer": [
 {
  "encoding": {
    "x": {"field": "x", "type": "quantitative",
      "scale": {"domain": [8.2, 90], "nice": false, "zero": false},
      "axis": {"values": [10,15,20,25,30,35,40,45,50,55,60,65,70,75,80,85,90],
        "labelExpr": "datum.value % 10 === 0 ? datum.label : ''",
        "tickSize": {"condition": {"test": "datum.value % 10 === 0", "value": 23}, "value": 12},
        "tickWidth": 4, "tickColor": "black", "domainColor": "black", "domainWidth": 4, "grid": false,
        "labelFont": "Liberation Sans", "labelFontSize": 58, "labelColor": "black", "labelPadding": 18, "labelFlush": false, "labelOverlap": false,
        "title": "2θ (degrees)", "titleFont": "Liberation Sans", "titleFontWeight": "bold", "titleFontSize": 56, "titleColor": "black",
        "titleX": 964, "titleY": 176, "titleAlign": "center", "titleBaseline": "middle"}},
    "y": {"field": "y", "type": "quantitative",
      "scale": {"domain": [-2.16, 200], "nice": false, "zero": false},
      "axis": {"values": [0,10,20,30,40,50,60,70,80,90,100,110,120,130,140,150,160,170,180,190,200],
        "labels": false,
        "tickSize": {"condition": {"test": "datum.value % 20 === 0", "value": 23}, "value": 12},
        "tickWidth": 4, "tickColor": "black", "domainColor": "black", "domainWidth": 4, "grid": false,
        "title": "Intensity (a. u.)", "titleFont": "Liberation Sans", "titleFontWeight": "bold", "titleFontSize": 80, "titleColor": "black",
        "titleX": -89, "titleY": 623, "titleAngle": 270, "titleAlign": "center", "titleBaseline": "middle"}}
  },
  "layer": [
  {"data": {"name": "blue"}, "mark": {"type": "line", "clip": true, "strokeWidth": 6.5, "strokeJoin": "round"},
   "encoding": {"color": {"datum": "GQD_Chit. Film", "type": "nominal",
     "scale": {"domain": ["GQD_Chit. Film", "GQD Pure", "Chitosan Film", "Quitosan Pure"], "range": ["#0000ff", "#ff0000", "#000000", "#00ff00"]},
     "legend": {"orient": "none", "legendX": 1077.5, "legendY": 46, "title": null, "symbolType": "stroke", "symbolSize": 24025, "symbolStrokeWidth": 5, "clipHeight": 66, "rowPadding": 17, "labelFont": "Liberation Sans", "labelFontSize": 66, "labelColor": "black", "labelOffset": 12.5, "padding": 0, "labelLimit": 1000}}}},
  {"data": {"name": "red"}, "mark": {"type": "line", "clip": true, "strokeWidth": 6.5, "strokeJoin": "round"},
   "encoding": {"color": {"datum": "GQD Pure", "type": "nominal",
     "scale": {"domain": ["GQD_Chit. Film", "GQD Pure", "Chitosan Film", "Quitosan Pure"], "range": ["#0000ff", "#ff0000", "#000000", "#00ff00"]},
     "legend": {"orient": "none", "legendX": 1077.5, "legendY": 46, "title": null, "symbolType": "stroke", "symbolSize": 24025, "symbolStrokeWidth": 5, "clipHeight": 66, "rowPadding": 17, "labelFont": "Liberation Sans", "labelFontSize": 66, "labelColor": "black", "labelOffset": 12.5, "padding": 0, "labelLimit": 1000}}}},
  {"data": {"name": "black"}, "mark": {"type": "line", "clip": true, "strokeWidth": 6.5, "strokeJoin": "round"},
   "encoding": {"color": {"datum": "Chitosan Film", "type": "nominal",
     "scale": {"domain": ["GQD_Chit. Film", "GQD Pure", "Chitosan Film", "Quitosan Pure"], "range": ["#0000ff", "#ff0000", "#000000", "#00ff00"]},
     "legend": {"orient": "none", "legendX": 1077.5, "legendY": 46, "title": null, "symbolType": "stroke", "symbolSize": 24025, "symbolStrokeWidth": 5, "clipHeight": 66, "rowPadding": 17, "labelFont": "Liberation Sans", "labelFontSize": 66, "labelColor": "black", "labelOffset": 12.5, "padding": 0, "labelLimit": 1000}}}},
  {"data": {"name": "green"}, "mark": {"type": "line", "clip": true, "strokeWidth": 6.5, "strokeJoin": "round"},
   "encoding": {"color": {"datum": "Quitosan Pure", "type": "nominal",
     "scale": {"domain": ["GQD_Chit. Film", "GQD Pure", "Chitosan Film", "Quitosan Pure"], "range": ["#0000ff", "#ff0000", "#000000", "#00ff00"]},
     "legend": {"orient": "none", "legendX": 1077.5, "legendY": 46, "title": null, "symbolType": "stroke", "symbolSize": 24025, "symbolStrokeWidth": 5, "clipHeight": 66, "rowPadding": 17, "labelFont": "Liberation Sans", "labelFontSize": 66, "labelColor": "black", "labelOffset": 12.5, "padding": 0, "labelLimit": 1000}}}}
  ]
 },
 {"data": {"values": [{"label": "GO (001)"}]}, "mark": {"type": "text", "angle": 270, "align": "left", "baseline": "middle", "font": "Liberation Sans", "fontWeight": "bold", "fontSize": 74, "fill": "black"},
  "encoding": {"x": {"datum": 12.65, "type": "quantitative"}, "y": {"datum": 124.3, "type": "quantitative"}, "text": {"field": "label", "type": "nominal"}}},
 {"data": {"values": [{"label": "Graphite (002)"}]}, "mark": {"type": "text", "angle": 270, "align": "left", "baseline": "middle", "font": "Liberation Sans", "fontWeight": "bold", "fontSize": 66, "fill": "black"},
  "encoding": {"x": {"datum": 29.54, "type": "quantitative"}, "y": {"datum": 124.3, "type": "quantitative"}, "text": {"field": "label", "type": "nominal"}}},
 {"data": {"values": [{"label": "Graphite (004)"}]}, "mark": {"type": "text", "angle": 270, "align": "left", "baseline": "middle", "font": "Liberation Sans", "fontWeight": "bold", "fontSize": 66, "fill": "black"},
  "encoding": {"x": {"datum": 55.04, "type": "quantitative"}, "y": {"datum": 98.0, "type": "quantitative"}, "text": {"field": "label", "type": "nominal"}}}
]
}
